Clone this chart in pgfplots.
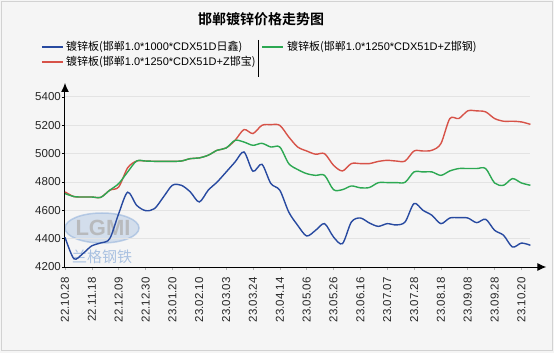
\documentclass[border=0pt]{standalone}
\usepackage{pgfplots}
\pgfplotsset{compat=1.18}
\usepackage{fontspec}
\setmainfont{Liberation Sans}
\newfontfamily\cjk{Noto Sans CJK SC}
\newfontfamily\cjkb{Noto Sans CJK SC Bold}
\usetikzlibrary{arrows.meta,calc,backgrounds}
\definecolor{bg}{RGB}{245,245,245}
\definecolor{cblue}{RGB}{40,74,160}
\definecolor{cred}{RGB}{215,82,72}
\definecolor{cgreen}{RGB}{44,168,82}
\definecolor{wm}{RGB}{150,180,220}
\begin{document}
\begin{tikzpicture}[x=1pt,y=1pt]
\begin{axis}[
  scale only axis, width=465.4pt, height=170pt,
  xmin=0, xmax=52, ymin=4200, ymax=5400,
  axis x line=bottom, axis y line=left,
  x axis line style={-{Latex[length=9pt,width=8pt]}, shorten >=-16pt, line width=1pt},
  y axis line style={-{Latex[length=9pt,width=8pt]}, shorten >=-14pt, line width=1pt},
  ytick={4200,4400,4600,4800,5000,5200,5400},
  ymajorgrids, grid style={gray!22, line width=1pt},
  xtick={0,3,6,9,12,15,18,21,24,27,30,33,36,39,42,45,48,51},
  xticklabels={22.10.28,22.11.18,22.12.09,22.12.30,23.01.20,23.02.10,23.03.03,23.03.24,23.04.14,23.05.06,23.05.26,23.06.16,23.07.07,23.07.28,23.08.18,23.09.08,23.09.28,23.10.20},
  tick align=outside, major tick length=3pt,
  xtick style={gray!60, line width=0.6pt},
  ytick style={black, line width=0.8pt},
  xticklabel style={rotate=90, anchor=east, font=\fontsize{11.5}{12}\selectfont, text=black!85, xshift=-4pt},
  yticklabel style={font=\fontsize{11.5}{12}\selectfont, text=black!85, inner sep=1pt},
  /pgf/number format/assume math mode=true,
  /pgf/number format/1000 sep={},
  clip=false,
]
\coordinate (O) at (axis cs:0,4200);
\addplot[cred, line width=1.4pt, smooth] coordinates {
(0,4730)(1,4697)(2,4694)(3,4694)(4,4692)(5,4742)(6,4765)(7,4900)(8,4948)(9,4948)(10,4946)(11,4946)(12,4946)(13,4948)(14,4965)(15,4970)(16,4989)(17,5024)(18,5040)(19,5094)(20,5170)(21,5142)(22,5200)(23,5205)(24,5200)(25,5118)(26,5047)(27,5019)(28,4996)(29,5000)(30,4918)(31,4878)(32,4930)(33,4930)(34,4930)(35,4945)(36,4953)(37,4948)(38,4948)(39,5019)(40,5019)(41,5024)(42,5071)(43,5248)(44,5248)(45,5302)(46,5302)(47,5295)(48,5248)(49,5229)(50,5229)(51,5224)(52,5207)};
\addplot[cgreen, line width=1.4pt, smooth] coordinates {
(0,4718)(1,4697)(2,4694)(3,4694)(4,4692)(5,4742)(6,4789)(7,4871)(8,4948)(9,4948)(10,4946)(11,4946)(12,4946)(13,4948)(14,4965)(15,4970)(16,4989)(17,5024)(18,5040)(19,5094)(20,5082)(21,5059)(22,5073)(23,5047)(24,5047)(25,4930)(26,4888)(27,4859)(28,4847)(29,4847)(30,4746)(31,4746)(32,4772)(33,4759)(34,4761)(35,4795)(36,4796)(37,4796)(38,4798)(39,4871)(40,4871)(41,4871)(42,4847)(43,4878)(44,4895)(45,4895)(46,4895)(47,4895)(48,4793)(49,4777)(50,4824)(51,4793)(52,4777)};
\addplot[cblue, line width=1.4pt, smooth] coordinates {
(0,4410)(1,4258)(2,4295)(3,4350)(4,4370)(5,4400)(6,4577)(7,4728)(8,4636)(9,4598)(10,4612)(11,4694)(12,4777)(13,4777)(14,4730)(15,4659)(16,4742)(17,4800)(18,4870)(19,4941)(20,5012)(21,4876)(22,4925)(23,4789)(24,4742)(25,4588)(26,4494)(27,4419)(28,4459)(29,4506)(30,4412)(31,4365)(32,4518)(33,4546)(34,4511)(35,4487)(36,4506)(37,4497)(38,4518)(39,4648)(40,4600)(41,4565)(42,4506)(43,4546)(44,4548)(45,4546)(46,4513)(47,4537)(48,4459)(49,4424)(50,4341)(51,4369)(52,4353)};
\end{axis}
\coordinate (C) at ($(O)+(-65,-86)$);
\begin{scope}[on background layer, shift={(C)}]
\fill[bg] (0,0) rectangle (554,353);
\draw[gray!35,line width=1pt] (2,2) rectangle (552,351);
\fill[wm,opacity=0.35] (102,125) ellipse [x radius=37, y radius=15];
\draw[wm,opacity=0.6,line width=1.5pt] (102,125) ellipse [x radius=37, y radius=15];
\node[text=gray!60,font=\bfseries\fontsize{22}{22}\selectfont,opacity=0.8] at (103,125) {LGMI};
\node[text=wm,font=\cjk\fontsize{15}{15}\selectfont,opacity=0.8] at (102,96) {兰格钢铁};
\end{scope}
\begin{scope}[shift={(C)}]
\node[font=\cjkb\fontsize{14}{14}\selectfont] at (261,334) {邯郸镀锌价格走势图};
\draw[cblue,line width=1.8pt] (42,306) -- (63,306);
\node[anchor=west,font=\fontsize{11}{11}\selectfont,inner sep=0pt] at (66,306) {{\cjk 镀锌板(邯郸}1.0*1000*CDX51D{\cjk 日鑫)}};
\draw[cred,line width=1.8pt] (42,291) -- (63,291);
\node[anchor=west,font=\fontsize{11}{11}\selectfont,inner sep=0pt] at (66,291) {{\cjk 镀锌板(邯郸}1.0*1250*CDX51D+Z{\cjk 邯宝)}};
\draw[black,line width=1pt] (258,313) -- (258,276);
\draw[cgreen,line width=1.8pt] (262,306) -- (283,306);
\node[anchor=west,font=\fontsize{11}{11}\selectfont,inner sep=0pt] at (287,306) {{\cjk 镀锌板(邯郸}1.0*1250*CDX51D+Z{\cjk 邯钢)}};
\pgfresetboundingbox
\path[use as bounding box] (0,0) rectangle (554,353);
\end{scope}
\end{tikzpicture}
\end{document}
